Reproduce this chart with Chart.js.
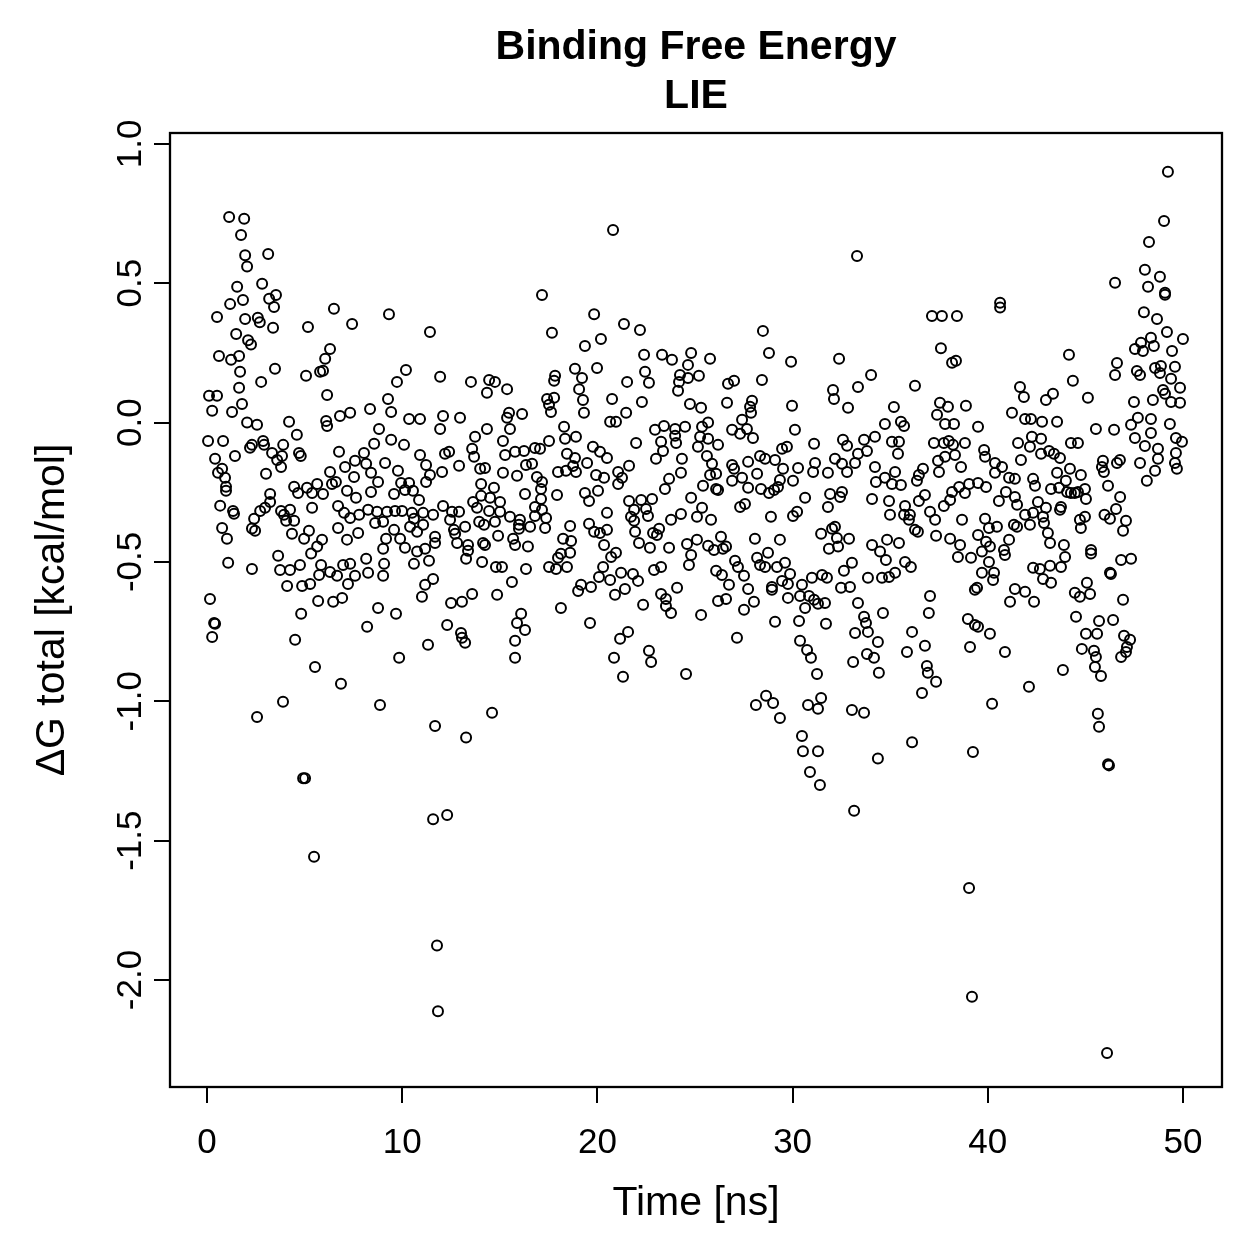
<!DOCTYPE html>
<html>
<head>
<meta charset="utf-8">
<title>Binding Free Energy - LIE</title>
<script src="https://cdn.jsdelivr.net/npm/chart.js@4.4.1/dist/chart.umd.min.js"></script>
<style>
  html, body { margin: 0; padding: 0; background: #fff; }
  canvas { display: block; }
</style>
</head>
<body>
<canvas id="lie-chart" width="1259" height="1259"></canvas>
<script>
// [time (ns), dG total (kcal/mol)], grouped by time window
const frames0to8High = [[1.13,0.738],[1.9,0.731],[1.74,0.673],[1.95,0.6],[3.13,0.605],[2.05,0.56],[1.54,0.487],[2.82,0.498],[1.84,0.44],[1.18,0.425],[3.18,0.444],[3.53,0.458],[3.43,0.415],[6.5,0.408],[0.51,0.379],[1.95,0.372],[2.6,0.376],[2.7,0.36],[3.38,0.34],[5.17,0.343],[7.43,0.354],[1.49,0.318],[2.1,0.295],[2.25,0.28],[6.3,0.264],[0.61,0.239],[1.23,0.225],[1.64,0.239],[6.05,0.229],[1.69,0.182],[3.48,0.193],[5.79,0.182],[5.94,0.186],[5.07,0.168],[2.77,0.146],[1.64,0.125],[0.1,0.096],[0.51,0.096],[6.15,0.099],[1.79,0.067],[0.26,0.042],[1.28,0.038],[2.05,0.0],[2.56,-0.008],[4.2,0.003],[6.1,0.006],[6.15,-0.012],[6.81,0.024],[7.33,0.035]];
const frames0to8Low = [[0.05,-0.066],[0.82,-0.066],[1.43,-0.12],[2.3,-0.08],[2.2,-0.09],[2.87,-0.066],[2.92,-0.08],[3.9,-0.08],[4.6,-0.044],[3.33,-0.109],[3.59,-0.134],[3.84,-0.12],[3.79,-0.159],[4.71,-0.109],[4.8,-0.12],[0.41,-0.13],[0.77,-0.166],[0.56,-0.18],[0.92,-0.198],[0.97,-0.23],[0.97,-0.245],[3.02,-0.184],[6.3,-0.177],[6.76,-0.105],[7.07,-0.159],[7.58,-0.137],[7.53,-0.195],[4.46,-0.23],[4.66,-0.253],[5.12,-0.234],[5.38,-0.253],[5.64,-0.22],[5.94,-0.256],[6.4,-0.22],[6.6,-0.213],[7.17,-0.245],[7.63,-0.27],[3.23,-0.256],[3.23,-0.285],[2.97,-0.306],[2.72,-0.317],[2.41,-0.345],[2.3,-0.38],[2.46,-0.388],[0.67,-0.298],[1.33,-0.317],[1.38,-0.327],[3.79,-0.317],[3.94,-0.331],[4.25,-0.313],[4.05,-0.352],[4.46,-0.352],[4.35,-0.399],[5.38,-0.306],[5.22,-0.388],[4.97,-0.417],[5.89,-0.42],[5.64,-0.445],[5.33,-0.47],[6.71,-0.299],[7.02,-0.324],[7.33,-0.342],[7.79,-0.331],[6.71,-0.378],[7.17,-0.42],[7.74,-0.396],[0.77,-0.378],[1.02,-0.417],[1.08,-0.503],[2.3,-0.525],[3.64,-0.478],[3.74,-0.529],[4.25,-0.529],[4.76,-0.511],[4.1,-0.586],[4.87,-0.586],[5.28,-0.579],[5.74,-0.547],[5.84,-0.511],[6.3,-0.536],[6.66,-0.55],[6.97,-0.511],[7.33,-0.507],[7.22,-0.579],[7.58,-0.55],[5.69,-0.64],[6.46,-0.643],[6.92,-0.629],[4.82,-0.686],[4.51,-0.779],[0.15,-0.633],[0.36,-0.719],[0.26,-0.769],[0.41,-0.722],[5.53,-0.877],[6.86,-0.937],[3.89,-1.002],[2.56,-1.056],[4.92,-1.276],[5.02,-1.276],[5.48,-1.558]];
const frames8to16High = [[9.32,0.389],[11.42,0.325],[10.19,0.189],[9.73,0.146],[11.94,0.164],[13.52,0.146],[14.45,0.153],[14.75,0.146],[14.34,0.107],[15.37,0.12],[9.27,0.085],[8.35,0.049],[9.43,0.038],[10.35,0.013],[10.91,0.013],[12.09,0.024],[12.96,0.017],[15.37,0.017],[15.47,0.035],[16.14,0.031],[8.81,-0.023],[11.94,-0.023],[14.34,-0.023],[15.52,-0.023]];
const frames8to16Low = [[13.73,-0.051],[8.56,-0.076],[9.43,-0.062],[10.09,-0.08],[8.04,-0.109],[10.91,-0.116],[12.19,-0.112],[12.4,-0.105],[13.58,-0.094],[13.68,-0.123],[15.16,-0.066],[15.27,-0.116],[15.78,-0.105],[16.24,-0.102],[8.15,-0.148],[9.12,-0.145],[9.78,-0.173],[11.22,-0.152],[12.04,-0.177],[12.91,-0.155],[13.99,-0.166],[14.24,-0.163],[15.16,-0.18],[15.88,-0.191],[16.34,-0.152],[8.4,-0.18],[8.76,-0.213],[11.42,-0.188],[11.22,-0.213],[9.94,-0.217],[10.35,-0.217],[10.14,-0.242],[14.04,-0.22],[14.7,-0.234],[8.4,-0.249],[9.58,-0.256],[10.55,-0.245],[10.86,-0.278],[12.09,-0.299],[13.63,-0.285],[14.04,-0.263],[14.5,-0.27],[15.01,-0.285],[16.29,-0.256],[8.25,-0.313],[8.71,-0.32],[9.22,-0.32],[9.63,-0.317],[9.99,-0.317],[10.5,-0.324],[11.07,-0.324],[11.58,-0.331],[12.55,-0.32],[12.91,-0.32],[13.83,-0.306],[14.45,-0.317],[15.01,-0.32],[15.52,-0.338],[16.03,-0.349],[8.61,-0.36],[9.02,-0.356],[10.6,-0.345],[10.4,-0.374],[11.07,-0.367],[12.45,-0.349],[12.65,-0.385],[13.22,-0.374],[13.94,-0.356],[14.19,-0.367],[14.75,-0.356],[15.98,-0.367],[15.98,-0.381],[9.58,-0.385],[10.76,-0.392],[11.68,-0.41],[12.71,-0.399],[9.17,-0.417],[9.89,-0.417],[11.68,-0.432],[12.81,-0.432],[13.37,-0.439],[14.14,-0.432],[14.24,-0.439],[14.91,-0.406],[15.68,-0.417],[15.78,-0.439],[16.44,-0.445],[9.02,-0.453],[10.14,-0.449],[10.76,-0.463],[11.17,-0.453],[13.37,-0.46],[8.15,-0.489],[9.07,-0.507],[10.6,-0.507],[11.37,-0.496],[13.27,-0.489],[14.09,-0.5],[14.8,-0.518],[15.11,-0.518],[16.34,-0.525],[8.25,-0.539],[9.02,-0.55],[11.58,-0.561],[11.17,-0.582],[15.62,-0.572],[11.01,-0.625],[12.5,-0.647],[13.06,-0.643],[13.58,-0.615],[14.86,-0.618],[8.76,-0.665],[9.68,-0.686],[8.2,-0.733],[12.3,-0.726],[13.01,-0.755],[13.06,-0.772],[13.22,-0.79],[11.32,-0.797],[9.84,-0.844],[16.09,-0.686],[15.88,-0.719],[16.29,-0.744],[15.78,-0.783],[15.78,-0.844],[8.86,-1.013],[14.6,-1.041],[11.68,-1.089],[11.58,-1.423],[12.3,-1.408],[11.78,-1.876],[11.83,-2.112],[13.27,-1.13]];
const frames16to25High = [[20.8,0.691],[17.16,0.458],[19.83,0.389],[21.36,0.354],[22.18,0.332],[17.67,0.322],[20.18,0.3],[19.36,0.275],[22.39,0.243],[23.31,0.243],[23.82,0.225],[24.8,0.25],[24.64,0.207],[18.85,0.193],[19.98,0.196],[19.21,0.16],[17.83,0.168],[17.78,0.15],[22.44,0.182],[22.64,0.143],[24.23,0.171],[24.64,0.16],[24.18,0.146],[24.13,0.114],[21.52,0.146],[19.06,0.12],[19.26,0.081],[17.42,0.085],[17.78,0.089],[17.52,0.064],[17.62,0.038],[20.75,0.085],[22.28,0.074],[19.31,0.035],[21.47,0.035],[20.65,0.003],[20.95,0.003],[24.74,0.067],[18.29,-0.015],[23.41,-0.012],[23.98,-0.023],[24.49,-0.015],[22.95,-0.026]];
const frames16to25Low = [[17.52,-0.066],[16.8,-0.091],[17.06,-0.094],[18.34,-0.058],[18.9,-0.051],[19.77,-0.087],[20.13,-0.105],[20.49,-0.127],[21.98,-0.073],[23.26,-0.069],[23.98,-0.047],[24.03,-0.073],[23.36,-0.102],[23.0,-0.13],[24.33,-0.13],[18.44,-0.112],[18.85,-0.127],[19.47,-0.145],[16.65,-0.148],[17.98,-0.177],[18.39,-0.173],[18.9,-0.177],[18.75,-0.156],[19.93,-0.188],[20.34,-0.198],[21.06,-0.177],[21.62,-0.155],[21.26,-0.198],[21.06,-0.22],[24.28,-0.18],[23.67,-0.202],[23.46,-0.238],[16.9,-0.195],[17.16,-0.213],[17.11,-0.238],[17.93,-0.26],[19.36,-0.253],[19.57,-0.281],[20.03,-0.245],[17.11,-0.274],[16.8,-0.303],[17.16,-0.313],[17.37,-0.342],[16.8,-0.335],[16.55,-0.374],[17.32,-0.378],[20.49,-0.324],[21.62,-0.281],[21.88,-0.313],[22.24,-0.278],[22.8,-0.274],[22.49,-0.31],[21.72,-0.338],[22.59,-0.335],[21.88,-0.352],[24.8,-0.27],[24.28,-0.328],[23.77,-0.349],[18.6,-0.371],[19.57,-0.363],[19.83,-0.392],[20.13,-0.396],[20.49,-0.385],[21.93,-0.392],[22.85,-0.396],[23.16,-0.381],[23.05,-0.403],[18.24,-0.417],[18.65,-0.425],[20.34,-0.439],[22.13,-0.432],[22.69,-0.449],[23.67,-0.449],[24.59,-0.436],[24.8,-0.475],[24.69,-0.511],[18.13,-0.471],[17.98,-0.485],[18.6,-0.467],[20.7,-0.482],[20.95,-0.467],[17.52,-0.518],[17.88,-0.525],[18.44,-0.518],[20.29,-0.518],[22.9,-0.529],[23.26,-0.518],[20.08,-0.554],[20.65,-0.565],[21.21,-0.539],[21.82,-0.543],[22.08,-0.568],[19.16,-0.582],[19.01,-0.604],[19.67,-0.59],[20.9,-0.618],[21.41,-0.597],[22.34,-0.654],[23.26,-0.615],[23.51,-0.633],[24.08,-0.593],[23.51,-0.658],[23.77,-0.683],[18.13,-0.665],[19.62,-0.719],[21.57,-0.751],[21.16,-0.776],[22.64,-0.819],[22.75,-0.859],[20.85,-0.844],[21.31,-0.912],[24.54,-0.902]];
const frames25to33High = [[33.3,0.598],[28.48,0.329],[28.79,0.25],[29.92,0.218],[32.38,0.229],[25.77,0.229],[25.2,0.168],[27.0,0.15],[26.69,0.139],[28.43,0.153],[32.07,0.117],[32.12,0.085],[32.84,0.053],[33.35,0.128],[26.64,0.071],[27.92,0.078],[27.82,0.057],[27.87,0.035],[29.97,0.06],[25.31,0.053],[27.41,0.01],[25.67,0.0],[25.36,-0.015],[26.9,-0.026],[27.66,-0.023],[30.12,-0.026]];
const frames25to33Low = [[25.26,-0.051],[25.67,-0.058],[25.15,-0.087],[26.18,-0.08],[27.31,-0.04],[27.97,-0.055],[29.46,-0.094],[29.71,-0.087],[28.33,-0.12],[28.59,-0.13],[29.1,-0.134],[27.72,-0.141],[31.1,-0.076],[32.58,-0.062],[32.79,-0.083],[33.35,-0.112],[32.17,-0.13],[31.15,-0.145],[32.53,-0.148],[33.2,-0.145],[25.61,-0.12],[25.87,-0.148],[26.9,-0.152],[27.0,-0.166],[28.18,-0.184],[29.51,-0.166],[30.28,-0.163],[31.05,-0.177],[31.81,-0.18],[32.79,-0.177],[25.77,-0.188],[26.08,-0.184],[27.41,-0.198],[30.02,-0.209],[29.35,-0.206],[26.9,-0.209],[25.41,-0.227],[26.08,-0.238],[26.18,-0.242],[27.72,-0.234],[28.38,-0.238],[28.79,-0.253],[29.05,-0.242],[29.25,-0.231],[30.64,-0.27],[31.92,-0.256],[32.53,-0.249],[32.43,-0.267],[31.81,-0.303],[25.36,-0.306],[25.1,-0.338],[25.82,-0.349],[27.31,-0.303],[27.56,-0.292],[28.89,-0.338],[30.02,-0.335],[30.23,-0.32],[28.07,-0.417],[29.35,-0.42],[31.46,-0.399],[32.02,-0.381],[32.17,-0.374],[32.27,-0.414],[32.89,-0.417],[31.86,-0.453],[32.33,-0.445],[25.1,-0.42],[25.67,-0.442],[25.97,-0.457],[26.33,-0.41],[26.59,-0.445],[26.43,-0.453],[27.05,-0.496],[27.2,-0.518],[27.51,-0.55],[26.08,-0.532],[26.38,-0.547],[26.74,-0.582],[26.18,-0.64],[26.59,-0.633],[27.51,-0.672],[28.02,-0.643],[27.72,-0.597],[28.18,-0.485],[28.74,-0.467],[28.59,-0.518],[28.33,-0.511],[29.2,-0.518],[29.61,-0.503],[29.87,-0.543],[28.94,-0.59],[28.94,-0.6],[29.46,-0.568],[29.76,-0.579],[29.76,-0.629],[30.48,-0.582],[30.99,-0.557],[30.38,-0.622],[30.84,-0.622],[31.1,-0.636],[30.64,-0.665],[31.66,-0.647],[31.3,-0.65],[31.51,-0.547],[31.76,-0.557],[32.48,-0.593],[32.94,-0.59],[32.63,-0.532],[33.04,-0.503],[33.35,-0.647],[25.31,-0.69],[29.1,-0.715],[30.33,-0.712],[31.71,-0.722],[27.15,-0.772],[30.38,-0.783],[30.74,-0.816],[30.94,-0.844],[33.2,-0.755],[33.1,-0.859],[31.25,-0.902],[28.64,-0.98],[28.12,-1.013],[29.0,-1.006],[29.35,-1.06],[30.79,-1.013],[31.46,-0.988],[31.3,-1.027],[33.04,-1.031],[30.48,-1.125],[30.53,-1.179],[31.3,-1.179],[30.89,-1.254],[31.4,-1.3],[33.15,-1.393]];
const frames33to42High = [[40.63,0.43],[40.63,0.413],[37.14,0.382],[37.65,0.382],[38.42,0.382],[37.6,0.267],[38.17,0.215],[38.37,0.222],[34.02,0.171],[36.27,0.132],[41.65,0.128],[41.85,0.092],[35.19,0.056],[37.55,0.071],[37.96,0.057],[38.88,0.06],[37.4,0.028],[41.24,0.035],[34.73,-0.005],[35.55,0.003],[35.71,-0.012],[37.81,-0.005],[38.27,-0.005],[39.5,-0.015],[41.91,0.013]];
const frames33to42Low = [[34.22,-0.051],[33.66,-0.062],[33.81,-0.102],[35.09,-0.069],[35.45,-0.069],[35.4,-0.112],[37.24,-0.073],[37.75,-0.073],[38.0,-0.066],[38.22,-0.08],[38.83,-0.073],[37.45,-0.137],[37.81,-0.123],[38.32,-0.116],[37.5,-0.177],[38.63,-0.159],[39.81,-0.098],[39.86,-0.123],[41.55,-0.073],[41.7,-0.134],[40.37,-0.145],[40.73,-0.159],[40.37,-0.18],[41.09,-0.198],[41.39,-0.202],[34.22,-0.159],[34.27,-0.213],[34.73,-0.198],[35.25,-0.177],[35.09,-0.22],[35.55,-0.224],[36.37,-0.209],[36.47,-0.188],[36.68,-0.166],[34.07,-0.274],[34.94,-0.281],[34.99,-0.331],[35.76,-0.299],[35.71,-0.331],[36.01,-0.331],[35.96,-0.349],[36.47,-0.281],[36.78,-0.26],[37.04,-0.32],[37.3,-0.349],[36.27,-0.385],[36.42,-0.392],[37.35,-0.406],[37.75,-0.299],[38.07,-0.278],[38.17,-0.249],[38.53,-0.231],[38.83,-0.253],[38.68,-0.349],[38.07,-0.417],[38.58,-0.439],[38.47,-0.482],[39.14,-0.485],[39.04,-0.22],[39.5,-0.217],[39.91,-0.231],[40.57,-0.281],[40.93,-0.249],[41.39,-0.267],[41.5,-0.295],[41.91,-0.331],[39.86,-0.345],[40.06,-0.378],[40.47,-0.374],[39.5,-0.403],[39.91,-0.428],[40.11,-0.445],[39.7,-0.463],[40.06,-0.5],[41.09,-0.42],[40.83,-0.457],[40.88,-0.475],[41.34,-0.367],[41.5,-0.374],[39.7,-0.539],[40.32,-0.539],[40.27,-0.565],[34.07,-0.439],[34.84,-0.42],[35.45,-0.432],[34.48,-0.463],[34.78,-0.493],[35.76,-0.5],[36.06,-0.518],[33.86,-0.557],[34.58,-0.557],[34.94,-0.554],[35.25,-0.539],[39.34,-0.6],[39.45,-0.593],[41.39,-0.597],[41.14,-0.643],[41.91,-0.607],[37.04,-0.622],[36.98,-0.683],[34.63,-0.683],[38.98,-0.705],[39.34,-0.726],[39.5,-0.733],[40.11,-0.758],[33.66,-0.697],[33.76,-0.719],[33.86,-0.751],[34.37,-0.787],[36.12,-0.751],[36.78,-0.801],[35.86,-0.823],[39.09,-0.805],[40.88,-0.823],[33.81,-0.83],[34.17,-0.844],[36.88,-0.873],[36.93,-0.898],[37.35,-0.93],[34.42,-0.898],[36.63,-0.97],[40.22,-1.009],[42.11,-0.948],[33.66,-1.041],[36.12,-1.147],[39.24,-1.182],[39.04,-1.67],[39.19,-2.06],[34.37,-1.205]];
const frames42to50High = [[49.23,0.9],[49.03,0.723],[48.26,0.648],[46.52,0.502],[48.05,0.548],[48.82,0.523],[48.21,0.487],[49.08,0.466],[49.08,0.459],[48.0,0.396],[48.67,0.372],[49.18,0.325],[50.0,0.3],[47.54,0.264],[47.85,0.286],[48.36,0.304],[47.95,0.257],[48.51,0.275],[49.44,0.257],[44.16,0.243],[46.62,0.214],[46.52,0.171],[47.64,0.185],[47.8,0.171],[48.57,0.196],[48.87,0.203],[49.59,0.2],[48.82,0.178],[49.39,0.157],[44.36,0.15],[49.85,0.125],[48.98,0.117],[49.08,0.103],[48.46,0.081],[49.39,0.074],[49.85,0.071],[47.49,0.074],[45.13,0.089],[43.34,0.103],[42.98,0.081],[47.69,0.017],[48.36,0.013],[42.21,0.013],[42.78,0.003],[43.55,0.003],[49.33,-0.005],[45.54,-0.023],[46.47,-0.026],[47.34,-0.008]];
const frames42to50Low = [[47.54,-0.055],[48.36,-0.037],[48.05,-0.084],[48.72,-0.094],[48.72,-0.13],[49.64,-0.055],[49.95,-0.069],[49.64,-0.109],[49.59,-0.145],[49.69,-0.166],[48.57,-0.173],[48.15,-0.209],[47.8,-0.145],[42.26,-0.051],[42.73,-0.058],[42.16,-0.087],[42.73,-0.112],[43.14,-0.102],[43.39,-0.112],[43.7,-0.127],[44.26,-0.073],[44.62,-0.073],[45.9,-0.137],[45.85,-0.159],[45.95,-0.177],[46.62,-0.145],[46.77,-0.134],[46.16,-0.227],[46.78,-0.267],[46.57,-0.31],[47.08,-0.352],[46.93,-0.388],[45.98,-0.331],[46.26,-0.345],[44.21,-0.166],[44.77,-0.188],[42.32,-0.202],[42.42,-0.227],[43.55,-0.18],[44.0,-0.209],[43.24,-0.238],[43.65,-0.234],[44.06,-0.249],[44.26,-0.253],[44.46,-0.253],[44.62,-0.249],[44.98,-0.238],[45.03,-0.274],[42.57,-0.285],[43.75,-0.303],[43.7,-0.313],[42.98,-0.306],[42.32,-0.324],[42.83,-0.338],[42.88,-0.36],[42.16,-0.367],[44.98,-0.338],[44.72,-0.349],[44.77,-0.378],[43.08,-0.396],[43.19,-0.432],[43.9,-0.439],[43.96,-0.482],[45.29,-0.457],[45.29,-0.47],[46.83,-0.493],[47.34,-0.489],[42.32,-0.521],[42.67,-0.525],[43.19,-0.514],[43.75,-0.518],[42.83,-0.561],[43.24,-0.575],[46.26,-0.539],[46.31,-0.543],[42.37,-0.643],[44.46,-0.611],[44.72,-0.625],[45.24,-0.615],[45.08,-0.575],[46.93,-0.636],[44.52,-0.697],[45.7,-0.712],[46.42,-0.708],[45.03,-0.758],[45.6,-0.758],[46.98,-0.765],[47.29,-0.779],[47.13,-0.805],[47.08,-0.823],[46.83,-0.841],[44.82,-0.812],[45.44,-0.819],[45.54,-0.841],[45.49,-0.877],[45.8,-0.909],[43.85,-0.888],[45.64,-1.045],[45.7,-1.091],[46.16,-1.226],[46.21,-1.23],[46.11,-2.262]];

const timeTicks = [0, 10, 20, 30, 40, 50];
const timeTickLabels = ['0', '10', '20', '30', '40', '50'];
const energyTicks = [1.0, 0.5, 0.0, -0.5, -1.0, -1.5, -2.0];
const energyTickLabels = ['1.0', '0.5', '0.0', '-0.5', '-1.0', '-1.5', '-2.0'];

const titleLines = ['Binding Free Energy', 'LIE'];
const xTitle = 'Time [ns]';
const yTitle = '\u0394G total [kcal/mol]';

const FONT = '"Liberation Sans", Arial, Helvetica, sans-serif';

const points = [].concat(
  frames0to8High, frames0to8Low, frames8to16High, frames8to16Low,
  frames16to25High, frames16to25Low, frames25to33High, frames25to33Low,
  frames33to42High, frames33to42Low, frames42to50High, frames42to50Low
).map(([t, g]) => ({ x: t, y: g }));

// R-style frame, tick labels and titles drawn on top of the chart
const basePlotLook = {
  id: 'basePlotLook',
  afterDraw(chart) {
    const { ctx, chartArea: a, scales } = chart;
    ctx.save();
    ctx.strokeStyle = '#000';
    ctx.lineWidth = 2.3;
    ctx.strokeRect(a.left, a.top, a.right - a.left, a.bottom - a.top);

    ctx.fillStyle = '#000';
    ctx.font = '35px ' + FONT;
    ctx.textAlign = 'center';
    ctx.textBaseline = 'alphabetic';
    timeTicks.forEach((t, i) => {
      ctx.fillText(timeTickLabels[i], scales.x.getPixelForValue(t), a.bottom + 66);
    });

    energyTicks.forEach((v, i) => {
      ctx.save();
      ctx.translate(a.left - 29, scales.y.getPixelForValue(v));
      ctx.rotate(-Math.PI / 2);
      ctx.fillText(energyTickLabels[i], 0, 0);
      ctx.restore();
    });

    const midX = (a.left + a.right) / 2;
    const midY = (a.top + a.bottom) / 2;
    ctx.font = '41px ' + FONT;
    ctx.fillText(xTitle, midX, a.bottom + 128);

    ctx.save();
    ctx.translate(a.left - 106, midY);
    ctx.rotate(-Math.PI / 2);
    ctx.fillText(yTitle, 0, 0);
    ctx.restore();

    ctx.font = 'bold 41px ' + FONT;
    ctx.fillText(titleLines[0], midX, a.top - 74);
    ctx.fillText(titleLines[1], midX, a.top - 25);
    ctx.restore();
  }
};

const ctx = document.getElementById('lie-chart').getContext('2d');

new Chart(ctx, {
  type: 'scatter',
  data: {
    datasets: [{
      label: 'dG total',
      data: points,
      pointStyle: 'circle',
      pointRadius: 5,
      pointBorderWidth: 2,
      borderColor: '#000',
      backgroundColor: 'rgba(0,0,0,0)',
      pointHoverRadius: 5
    }]
  },
  options: {
    responsive: false,
    animation: false,
    devicePixelRatio: 1,
    layout: { padding: { top: 133, right: 37, left: 0, bottom: 0 } },
    plugins: {
      legend: { display: false },
      tooltip: { enabled: false },
      title: { display: false }
    },
    scales: {
      x: {
        type: 'linear',
        min: -1.9,
        max: 52.0,
        afterBuildTicks: (scale) => { scale.ticks = timeTicks.map((v) => ({ value: v })); },
        afterFit: (scale) => { scale.height = 172; },
        ticks: { display: false },
        border: { display: false },
        grid: { drawOnChartArea: false, drawTicks: true, tickLength: 16, color: '#000', lineWidth: 2 }
      },
      y: {
        type: 'linear',
        min: -2.384,
        max: 1.039,
        afterBuildTicks: (scale) => { scale.ticks = energyTicks.map((v) => ({ value: v })); },
        afterFit: (scale) => { scale.width = 170; },
        ticks: { display: false },
        border: { display: false },
        grid: { drawOnChartArea: false, drawTicks: true, tickLength: 16, color: '#000', lineWidth: 2 }
      }
    }
  },
  plugins: [basePlotLook]
});
</script>
</body>
</html>
